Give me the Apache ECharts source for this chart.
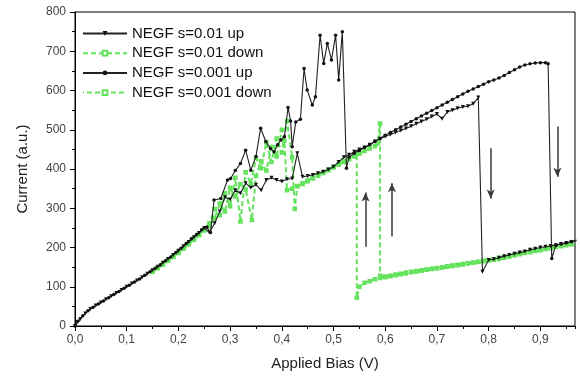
<!DOCTYPE html>
<html><head><meta charset="utf-8">
<script src="https://cdn.jsdelivr.net/npm/echarts@6/dist/echarts.min.js"></script>
<style>html,body{margin:0;padding:0;background:#fff}#c{width:580px;height:383px}</style>
</head><body><div id="c"></div>
<script>
// Names
const names = ['NEGF s=0.01 up', 'NEGF s=0.01 down', 'NEGF s=0.001 up', 'NEGF s=0.001 down'];
const xTickLabels = ['0,0','0,1','0,2','0,3','0,4','0,5','0,6','0,7','0,8','0,9'];

// NEGF s=0.01 up  [bias V, current a.u.]
const up01 = [[0,0],[0.01,17],[0.02,32],[0.03,43],[0.04,52],[0.05,60],[0.06,68],[0.07,76],[0.08,84],[0.09,92],
[0.10,100],[0.11,108],[0.12,116],[0.13,124],[0.14,133],[0.15,142],[0.16,151],[0.17,161],[0.18,171],[0.19,181],
[0.20,192],[0.21,203],[0.22,214],[0.23,226],[0.24,237],[0.25,250],[0.26,238],[0.27,262],[0.28,292],[0.29,328],
[0.30,322],[0.31,346],[0.32,338],[0.33,364],[0.34,352],[0.35,360],[0.36,346],[0.37,372],[0.38,378],[0.39,372],
[0.40,368],[0.41,374],[0.42,376],[0.43,440],[0.44,380],[0.45,382],[0.46,385],[0.47,389],[0.48,393],[0.49,399],
[0.50,406],[0.51,418],[0.52,430],[0.53,436],[0.54,444],[0.55,450],[0.56,455],[0.57,462],[0.58,470],[0.59,477],
[0.60,483],[0.61,488],[0.62,493],[0.63,498],[0.64,503],[0.65,509],[0.66,515],[0.67,521],[0.68,527],[0.69,534],
[0.70,540],[0.71,528],[0.72,545],[0.73,550],[0.74,555],[0.75,558],[0.76,560],[0.77,566],[0.78,582],[0.788,138],
[0.80,168],[0.81,170],[0.82,174],[0.83,178],[0.84,181],[0.85,184],[0.86,187],[0.87,190],[0.88,194],[0.89,197],
[0.90,200],[0.91,202],[0.92,204],[0.93,206],[0.94,209],[0.95,211],[0.96,214],[0.97,217]];

// NEGF s=0.001 up
const up001 = [[0,0],[0.005,12],[0.015,26],[0.025,39],[0.035,48],[0.045,56],[0.055,64],[0.065,72],[0.075,80],[0.085,88],
[0.095,96],[0.105,104],[0.115,112],[0.125,120],[0.135,129],[0.145,138],[0.155,147],[0.165,156],[0.175,166],[0.185,176],
[0.195,187],[0.205,198],[0.215,210],[0.225,222],[0.235,233],[0.245,245],[0.255,252],[0.262,238],[0.269,321],[0.282,325],
[0.295,372],[0.301,376],[0.31,396],[0.32,414],[0.33,448],[0.34,397],[0.35,432],[0.359,504],[0.369,470],[0.378,452],
[0.385,444],[0.392,462],[0.398,474],[0.405,482],[0.412,557],[0.417,522],[0.42,457],[0.427,520],[0.436,527],[0.443,656],
[0.449,601],[0.459,563],[0.465,584],[0.474,741],[0.481,669],[0.488,720],[0.496,678],[0.504,741],[0.51,627],[0.517,750],
[0.525,402],[0.53,430],[0.54,440],[0.55,447],[0.56,455],[0.57,462],[0.58,470],[0.59,478],[0.60,486],[0.61,493],
[0.62,500],[0.63,507],[0.64,514],[0.65,521],[0.66,528],[0.67,535],[0.68,542],[0.69,549],[0.70,556],[0.71,563],
[0.72,570],[0.73,577],[0.74,584],[0.75,591],[0.76,598],[0.77,604],[0.78,610],[0.79,616],[0.80,622],[0.81,627],
[0.82,632],[0.83,638],[0.84,646],[0.85,653],[0.86,660],[0.87,665],[0.88,668],[0.89,670],[0.90,671],[0.91,671],
[0.915,668],[0.922,172],[0.93,206],[0.94,209],[0.95,212],[0.96,215],[0.97,219]];

// NEGF s=0.01 down
const down01 = [[0.15,138],[0.16,147],[0.17,156],[0.18,166],[0.19,176],[0.20,186],[0.21,197],[0.22,208],[0.23,220],[0.24,231],
[0.25,243],[0.26,262],[0.27,298],[0.28,282],[0.29,338],[0.30,305],[0.31,378],[0.32,266],[0.33,392],[0.34,362],
[0.35,428],[0.36,402],[0.37,468],[0.38,418],[0.39,478],[0.40,442],[0.41,522],[0.42,430],[0.425,298],[0.43,356],
[0.44,362],[0.45,369],[0.46,376],[0.47,383],[0.48,390],[0.49,397],[0.50,404],[0.51,411],[0.52,418],[0.53,425],
[0.54,432],[0.55,439],[0.56,446],[0.57,452],[0.58,458],[0.585,465],[0.59,516],[0.59,128],[0.60,126],[0.61,128],
[0.62,131],[0.63,133],[0.64,136],[0.65,138],[0.66,140],[0.67,142],[0.68,144],[0.69,146],[0.70,148],[0.71,150],
[0.72,152],[0.73,154],[0.74,156],[0.75,158],[0.76,160],[0.77,162],[0.78,164],[0.79,166],[0.80,168],[0.81,170],
[0.82,173],[0.83,175],[0.84,178],[0.85,181],[0.86,184],[0.87,187],[0.88,190],[0.89,192],[0.90,195],[0.91,197],
[0.92,200],[0.93,202],[0.94,205],[0.95,207],[0.96,209],[0.97,212]];

// NEGF s=0.001 down
const down001 = [[0.15,140],[0.16,149],[0.17,158],[0.18,168],[0.19,178],[0.20,189],[0.21,200],[0.22,211],[0.23,223],[0.24,235],
[0.25,246],[0.26,255],[0.27,275],[0.28,312],[0.29,292],[0.30,352],[0.31,330],[0.32,362],[0.33,348],[0.342,270],
[0.35,382],[0.36,420],[0.37,396],[0.38,456],[0.39,432],[0.40,500],[0.405,472],[0.41,346],[0.42,350],[0.43,357],
[0.44,364],[0.45,371],[0.46,378],[0.47,385],[0.48,392],[0.49,399],[0.50,406],[0.51,413],[0.52,420],[0.53,427],
[0.54,434],[0.545,440],[0.545,72],[0.55,100],[0.56,110],[0.57,114],[0.58,119],[0.59,122],[0.60,124],[0.61,127],
[0.62,129],[0.63,132],[0.64,134],[0.65,137],[0.66,139],[0.67,141],[0.68,143],[0.69,145],[0.70,147],[0.71,149],
[0.72,151],[0.73,153],[0.74,155],[0.75,157],[0.76,159],[0.77,161],[0.78,163],[0.79,165],[0.80,167],[0.81,169],
[0.82,171],[0.83,174],[0.84,177],[0.85,180],[0.86,183],[0.87,186],[0.88,188],[0.89,191],[0.90,193],[0.91,196],
[0.92,198],[0.93,201],[0.94,203],[0.95,206],[0.96,208],[0.97,211]];

// annotation arrows: [bias, from current, to current]
const arrows = [[0.562,202,340],[0.613,228,364],[0.804,453,325],[0.933,508,380]];

const FONT = 'Liberation Sans, Arial, sans-serif';
const GREEN = '#62e25a';
const chart = echarts.init(document.getElementById('c'), null, {renderer:'canvas'});

function greenSeries(name, data, offset) {
  return {name, type:'line', data, xAxisIndex:0, yAxisIndex:0,
    symbol:'emptyRect', symbolSize:2.5, showSymbol:true,
    itemStyle:{color:GREEN, borderColor:GREEN, borderWidth:1},
    lineStyle:{color:GREEN, width:2, type:[5,3], dashOffset:offset}, z:2};
}
function blackSeries(name, data, symbol, size) {
  return {name, type:'line', data, xAxisIndex:0, yAxisIndex:0,
    symbol, symbolSize:size, showSymbol:true,
    itemStyle:{color:'#111'}, lineStyle:{color:'#222', width:1.1}, z:3};
}

const up01Series = blackSeries(names[0], up01, 'path://M0,0L10,0L5,9Z', 4);
up01Series.markLine = {
  silent:true, symbol:['none','arrow'], symbolSize:[6,9],
  lineStyle:{color:'#3a3a3a', width:1.5, type:'solid'},
  label:{show:false}, emphasis:{disabled:true},
  data: arrows.map(a => [{coord:[a[0], a[1]]}, {coord:[a[0], a[2]]}])
};

chart.setOption({
  animation:false,
  backgroundColor:'#fff',
  textStyle:{fontFamily:FONT},
  grid:{left:75, right:5, top:12, bottom:57, show:true, borderColor:'#000', borderWidth:1, backgroundColor:'transparent'},
  legend:{
    orient:'vertical', left:77, top:21, itemWidth:44, itemHeight:6, itemGap:4.7,
    textStyle:{fontSize:15, color:'#111', fontFamily:FONT},
    data:names
  },
  xAxis:[{
    type:'value', min:0, max:0.967, interval:0.1, position:'bottom',
    name:'Applied Bias (V)', nameLocation:'middle', nameGap:30,
    nameTextStyle:{fontSize:15, color:'#222', fontFamily:FONT},
    axisLine:{show:true, lineStyle:{color:'#000', width:1}},
    axisTick:{show:true, length:5, lineStyle:{color:'#000'}},
    axisLabel:{fontSize:12, color:'#444', margin:8, showMaxLabel:false,
      formatter:(v)=> { const i = Math.round(v*10); return (Math.abs(v*10-i)<1e-6 && i < xTickLabels.length) ? xTickLabels[i] : ''; }},
    splitLine:{show:false}
  },{
    type:'value', min:0, max:0.967, interval:0.05, position:'bottom', gridIndex:0,
    axisLine:{show:false}, axisTick:{show:true, length:3, lineStyle:{color:'#000'}},
    axisLabel:{show:false}, splitLine:{show:false}
  }],
  yAxis:{
    type:'value', min:0, max:800, interval:100,
    name:'Current (a.u.)', nameLocation:'middle', nameGap:45,
    nameTextStyle:{fontSize:15, color:'#222', fontFamily:FONT},
    axisLine:{show:true, lineStyle:{color:'#000', width:1}},
    axisTick:{show:true, length:5, lineStyle:{color:'#000'}},
    minorTick:{show:true, splitNumber:2, length:3, lineStyle:{color:'#000'}},
    axisLabel:{fontSize:12, color:'#444', margin:9},
    splitLine:{show:false}
  },
  series:[
    greenSeries(names[1], down01, 0),
    greenSeries(names[3], down001, 4),
    up01Series,
    blackSeries(names[2], up001, 'circle', 3.5)
  ]
});
</script>
</body></html>
